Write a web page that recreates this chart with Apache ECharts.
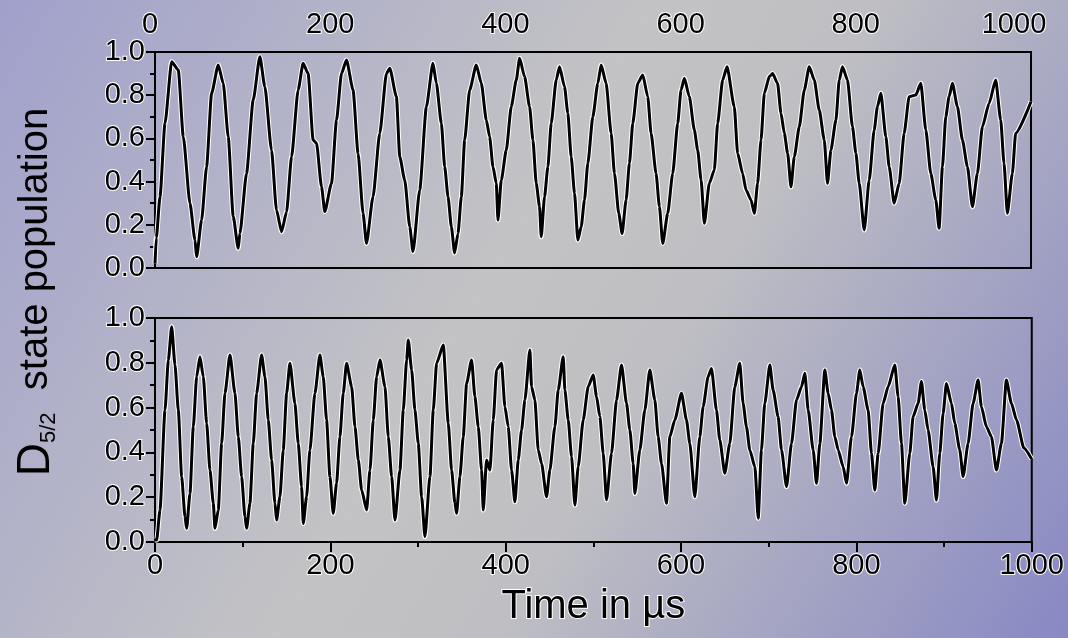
<!DOCTYPE html>
<html>
<head>
<meta charset="utf-8">
<script src="https://cdn.jsdelivr.net/npm/echarts@6/dist/echarts.min.js"></script>
<style>
html,body{margin:0;padding:0;}
#chart{width:1068px;height:638px;}
</style>
</head>
<body>
<div id="chart"></div>
<script>
// ---- Data (time in µs, D5/2 population) ----
const topTime = [0, 1.5, 5.7, 11.4, 19, 26.6, 32.3, 39.9, 45.6, 47.5, 53.2, 58.9, 64.6, 72.2, 77.9, 83.6, 89.3, 95, 96.9, 104.5, 112.1, 119.7, 125.4, 133, 138.7, 144.5, 150.2, 155.9, 163.4, 169.1, 174.8, 180.5, 184.4, 190.1, 193.8, 201.5, 207.2, 212.9, 218.6, 226.1, 231.8, 237.5, 241.4, 248.9, 256.6, 264.2, 268, 275.6, 279.4, 285.1, 290.8, 294.5, 302.2, 309.8, 317.3, 321.2, 326.9, 330.7, 334.5, 338.3, 342, 345.9, 349.7, 353.5, 359.2, 366.8, 372.5, 378.2, 382, 385.8, 389.6, 391.5, 395.3, 401, 406.7, 412.4, 416.2, 421.9, 427.6, 431.4, 435.2, 439, 440.9, 444.7, 448.5, 452.3, 458, 461.8, 467.5, 471.3, 475.1, 478.9, 482.7, 486.5, 490.3, 494.1, 499.8, 505.5, 509.3, 515, 520.7, 524.5, 529.4, 533.2, 537.8, 541.6, 545.4, 551.1, 556.8, 562.5, 566.3, 572, 575.8, 579.6, 585.3, 591, 596.7, 600.5, 604.3, 610, 615.7, 619.5, 623.4, 627.1, 632.8, 638.5, 642.3, 648, 653, 661.3, 665.1, 670.8, 674.7, 680.4, 684.2, 687.9, 691.8, 695.6, 701.3, 705, 710.7, 714.6, 718.4, 722.2, 726, 729.8, 735.5, 741.2, 746.9, 752.6, 758.3, 764, 767.7, 771.6, 777.3, 781.1, 784.8, 790.5, 796.2, 800.1, 803.9, 809.6, 815.3, 821, 824.7, 828.6, 834.3, 838.1, 843.8, 849.5, 855.2, 860.9, 868.5, 874.2, 879.9, 885.6, 891.3, 895.1, 898.9, 902.7, 906.5, 910.3, 916, 921.7, 927.4, 933.1, 938.8, 944.5, 952.1, 959.7, 965.4, 969.2, 973, 978.7, 982.5, 1000];
const topPop  = [0.02, 0.14, 0.33, 0.67, 0.955, 0.917, 0.608, 0.30, 0.13, 0.052, 0.222, 0.469, 0.809, 0.94, 0.855, 0.608, 0.238, 0.091, 0.16, 0.438, 0.778, 0.978, 0.839, 0.546, 0.268, 0.168, 0.26, 0.515, 0.824, 0.948, 0.90, 0.593, 0.577, 0.376, 0.261, 0.392, 0.685, 0.90, 0.963, 0.824, 0.531, 0.253, 0.114, 0.33, 0.624, 0.90, 0.925, 0.793, 0.515, 0.407, 0.191, 0.076, 0.361, 0.747, 0.948, 0.855, 0.67, 0.469, 0.33, 0.191, 0.07, 0.16, 0.33, 0.593, 0.824, 0.94, 0.855, 0.685, 0.608, 0.469, 0.392, 0.222, 0.407, 0.546, 0.747, 0.87, 0.971, 0.886, 0.747, 0.593, 0.392, 0.284, 0.145, 0.33, 0.469, 0.67, 0.87, 0.932, 0.839, 0.716, 0.515, 0.346, 0.13, 0.191, 0.315, 0.485, 0.70, 0.855, 0.94, 0.855, 0.624, 0.438, 0.253, 0.16, 0.315, 0.485, 0.67, 0.855, 0.894, 0.793, 0.624, 0.438, 0.284, 0.114, 0.253, 0.438, 0.67, 0.824, 0.878, 0.793, 0.639, 0.546, 0.407, 0.207, 0.392, 0.454, 0.67, 0.87, 0.932, 0.747, 0.531, 0.438, 0.361, 0.315, 0.253, 0.392, 0.593, 0.809, 0.886, 0.90, 0.855, 0.716, 0.624, 0.531, 0.376, 0.515, 0.654, 0.824, 0.932, 0.87, 0.731, 0.593, 0.392, 0.546, 0.685, 0.87, 0.932, 0.87, 0.654, 0.531, 0.392, 0.176, 0.407, 0.639, 0.747, 0.809, 0.608, 0.469, 0.30, 0.392, 0.624, 0.793, 0.801, 0.855, 0.639, 0.438, 0.315, 0.184, 0.469, 0.70, 0.793, 0.855, 0.747, 0.593, 0.469, 0.284, 0.438, 0.654, 0.762, 0.87, 0.685, 0.485, 0.253, 0.438, 0.624, 0.77];

const bottomTime = [0, 1.9, 5.7, 11.4, 15.2, 19, 22.8, 26.6, 30.4, 34.2, 36.1, 39.9, 43.7, 47.5, 51.3, 55.1, 58.9, 62.7, 66.5, 68.4, 72.2, 76, 79.8, 85.5, 91.2, 95, 98.8, 102.6, 104.5, 108.3, 112.1, 115.9, 121.6, 125.4, 129.2, 133, 136.8, 138.7, 142.5, 146.3, 150.1, 153.9, 159.6, 163.4, 167.2, 169.1, 172.9, 176.7, 182.4, 188.1, 191.9, 195.7, 199.5, 203.3, 207.1, 210.9, 214.7, 218.5, 224.3, 228.1, 231.9, 235.7, 241.4, 245.2, 249, 252.8, 256.6, 262.3, 266.1, 269.9, 273.7, 279.4, 283.2, 287, 288.9, 292.7, 296.5, 300.3, 304.1, 307.9, 313.6, 317.4, 321.2, 328.8, 334.5, 338.3, 342.1, 344, 347.8, 351.6, 355.4, 361.1, 364.9, 368.7, 372.5, 374.4, 378.2, 382, 385.8, 389.6, 395.3, 399.1, 402.9, 406.7, 410.5, 414.3, 418.1, 421.9, 427.6, 429.5, 433.3, 437.1, 440.9, 446.6, 450.4, 456.1, 459.9, 465.6, 467.5, 471.3, 475.1, 478.9, 482.7, 488.4, 494.1, 499.8, 503.6, 507.4, 511.2, 515, 520.7, 526.4, 532.1, 537.8, 541.6, 545.4, 547.3, 553, 558.7, 564.4, 570.1, 573.9, 577.7, 583.4, 587.2, 592.9, 600.5, 606.2, 610, 615.7, 621.4, 625.2, 630.9, 634.7, 640.4, 644.2, 649.9, 655.6, 661.3, 667, 670.8, 674.6, 678.4, 684.2, 688, 691.7, 695.5, 701.3, 705, 710.7, 714.6, 720.3, 726, 731.7, 737.4, 741.2, 745, 750.7, 754.5, 758.3, 764, 767.8, 771.6, 775.4, 779.2, 784.9, 788.7, 794.4, 800.1, 803.9, 807.7, 813.4, 817.2, 821, 824.8, 830.5, 836.2, 843.8, 847.6, 851.4, 855.2, 860.9, 864.7, 870.4, 874.2, 878, 881.8, 887.5, 891.3, 895.1, 898.9, 902.7, 908.4, 912.2, 917.9, 921.7, 927.4, 933.1, 938.8, 942.6, 948.3, 954, 959.7, 965.4, 971.1, 976.8, 982.6, 991, 1000];
const bottomPop  = [0.01, 0.009, 0.143, 0.589, 0.8125, 0.961, 0.79, 0.589, 0.292, 0.113, 0.061, 0.217, 0.515, 0.738, 0.827, 0.738, 0.53, 0.321, 0.173, 0.061, 0.143, 0.44, 0.664, 0.835, 0.664, 0.47, 0.292, 0.113, 0.061, 0.173, 0.44, 0.664, 0.835, 0.738, 0.545, 0.366, 0.173, 0.098, 0.202, 0.411, 0.664, 0.798, 0.619, 0.44, 0.247, 0.083, 0.202, 0.411, 0.664, 0.835, 0.738, 0.545, 0.292, 0.128, 0.262, 0.47, 0.664, 0.798, 0.693, 0.515, 0.366, 0.232, 0.143, 0.321, 0.545, 0.738, 0.8125, 0.693, 0.47, 0.292, 0.098, 0.321, 0.589, 0.8125, 0.902, 0.768, 0.589, 0.44, 0.202, 0.024, 0.292, 0.589, 0.798, 0.879, 0.53, 0.321, 0.173, 0.128, 0.292, 0.47, 0.708, 0.8125, 0.649, 0.515, 0.321, 0.143, 0.366, 0.321, 0.545, 0.768, 0.798, 0.604, 0.515, 0.321, 0.18, 0.366, 0.50, 0.634, 0.857, 0.693, 0.634, 0.411, 0.351, 0.202, 0.321, 0.515, 0.679, 0.827, 0.679, 0.545, 0.381, 0.165, 0.336, 0.545, 0.693, 0.746, 0.649, 0.56, 0.396, 0.1875, 0.396, 0.634, 0.79, 0.619, 0.50, 0.351, 0.217, 0.411, 0.589, 0.768, 0.634, 0.47, 0.351, 0.173, 0.47, 0.545, 0.664, 0.545, 0.44, 0.202, 0.47, 0.604, 0.738, 0.775, 0.589, 0.455, 0.307, 0.44, 0.693, 0.798, 0.619, 0.515, 0.411, 0.336, 0.106, 0.411, 0.619, 0.79, 0.679, 0.56, 0.411, 0.247, 0.44, 0.634, 0.693, 0.753, 0.589, 0.411, 0.262, 0.44, 0.768, 0.664, 0.589, 0.47, 0.411, 0.336, 0.262, 0.47, 0.664, 0.768, 0.693, 0.589, 0.396, 0.232, 0.396, 0.619, 0.693, 0.79, 0.649, 0.44, 0.173, 0.396, 0.56, 0.619, 0.716, 0.589, 0.50, 0.336, 0.1875, 0.396, 0.574, 0.708, 0.619, 0.53, 0.411, 0.292, 0.44, 0.619, 0.723, 0.604, 0.515, 0.47, 0.321, 0.44, 0.723, 0.619, 0.545, 0.42, 0.37];

const xTicks = [0, 200, 400, 600, 800, 1000];
const yTicks = [0.0, 0.2, 0.4, 0.6, 0.8, 1.0];
const xTitle = 'Time in µs';

// ---- build ----
const topData = topTime.map((t, i) => [t, topPop[i]]);
const bottomData = bottomTime.map((t, i) => [t, bottomPop[i]]);

const FONT = "'Liberation Sans', Arial, sans-serif";
const labelStyle = {
  color: '#000', fontFamily: FONT, fontSize: 29,
  textBorderColor: '#fff', textBorderWidth: 2
};

function yAxisFor(grid) {
  return {
    gridIndex: grid, type: 'value', min: 0, max: 1, interval: 0.2,
    axisLine: {show: true, lineStyle: {color: '#000', width: 2}},
    axisTick: {show: true, length: 9, lineStyle: {color: '#000', width: 2}},
    minorTick: {show: true, splitNumber: 2, length: 5, lineStyle: {color: '#000', width: 2}},
    splitLine: {show: false},
    axisLabel: Object.assign({margin: 10, formatter: v => v.toFixed(1)}, labelStyle)
  };
}

function lineSeries(idx, data, color, width, z, smooth) {
  return {
    type: 'line', xAxisIndex: idx, yAxisIndex: idx, data: data,
    showSymbol: false, smooth: smooth, smoothMonotone: 'x', silent: true, z: z,
    lineStyle: {color: color, width: width, join: 'round'},
    animation: false
  };
}

const chart = echarts.init(document.getElementById('chart'), null, {renderer: 'canvas'});
chart.setOption({
  animation: false,
  backgroundColor: new echarts.graphic.LinearGradient(0, 0, 1, 1, [
    {offset: 0, color: '#a0a0cc'},
    {offset: 0.45, color: '#c3c3c5'},
    {offset: 0.6, color: '#bfbfc3'},
    {offset: 1, color: '#8888c4'}
  ]),
  grid: [
    {left: 155, right: 37, top: 52, height: 216, show: true, borderColor: '#000', borderWidth: 2, backgroundColor: 'transparent'},
    {left: 155, right: 35, top: 318, height: 224, show: true, borderColor: '#000', borderWidth: 2, backgroundColor: 'transparent'}
  ],
  xAxis: [
    {
      gridIndex: 0, type: 'value', position: 'top', min: 0, max: 1000, interval: 200,
      axisLine: {show: false}, axisTick: {show: false}, splitLine: {show: false},
      axisLabel: Object.assign({
        margin: 13,
        formatter: v => v === 1000 ? '{m|1000}' : (v === 0 ? '{z|0}' : String(v)),
        rich: {
          m: Object.assign({padding: [0, 34, 0, 0]}, labelStyle),
          z: Object.assign({padding: [0, 10, 0, 0]}, labelStyle)
        }
      }, labelStyle)
    },
    {
      gridIndex: 1, type: 'value', position: 'bottom', min: 0, max: 1000, interval: 200,
      axisLine: {show: true, lineStyle: {color: '#000', width: 2}},
      axisTick: {show: true, length: 10, lineStyle: {color: '#000', width: 2}},
      minorTick: {show: true, splitNumber: 2, length: 5, lineStyle: {color: '#000', width: 2}},
      splitLine: {show: false},
      axisLabel: Object.assign({margin: 9, formatter: v => String(v)}, labelStyle),
      name: xTitle, nameLocation: 'middle', nameGap: 45,
      nameTextStyle: {color: '#000', fontFamily: FONT, fontSize: 40, textBorderColor: '#fff', textBorderWidth: 2}
    }
  ],
  yAxis: [yAxisFor(0), yAxisFor(1)],
  graphic: [{
    type: 'text', x: 36, y: 292, rotation: Math.PI / 2,
    style: {
      text: '{d|D}{b|5/2}{a|  state population}',
      align: 'center', verticalAlign: 'middle',
      fill: '#000',
      rich: {
        d: {fontSize: 46, fontFamily: FONT, fill: '#000', lineHeight: 48},
        a: {fontSize: 40, fontFamily: FONT, fill: '#000', lineHeight: 48},
        b: {fontSize: 22, fontFamily: FONT, fill: '#000', lineHeight: 22, verticalAlign: 'bottom', padding: [16, 0, 0, 0]}
      }
    }
  }],
  series: [
    lineSeries(0, topData, '#fff', 5, 2, 0.2),
    lineSeries(0, topData, '#000', 3, 3, 0.2),
    lineSeries(1, bottomData, '#fff', 5, 2, 0.2),
    lineSeries(1, bottomData, '#000', 3, 3, 0.2)
  ]
});
</script>
</body>
</html>
